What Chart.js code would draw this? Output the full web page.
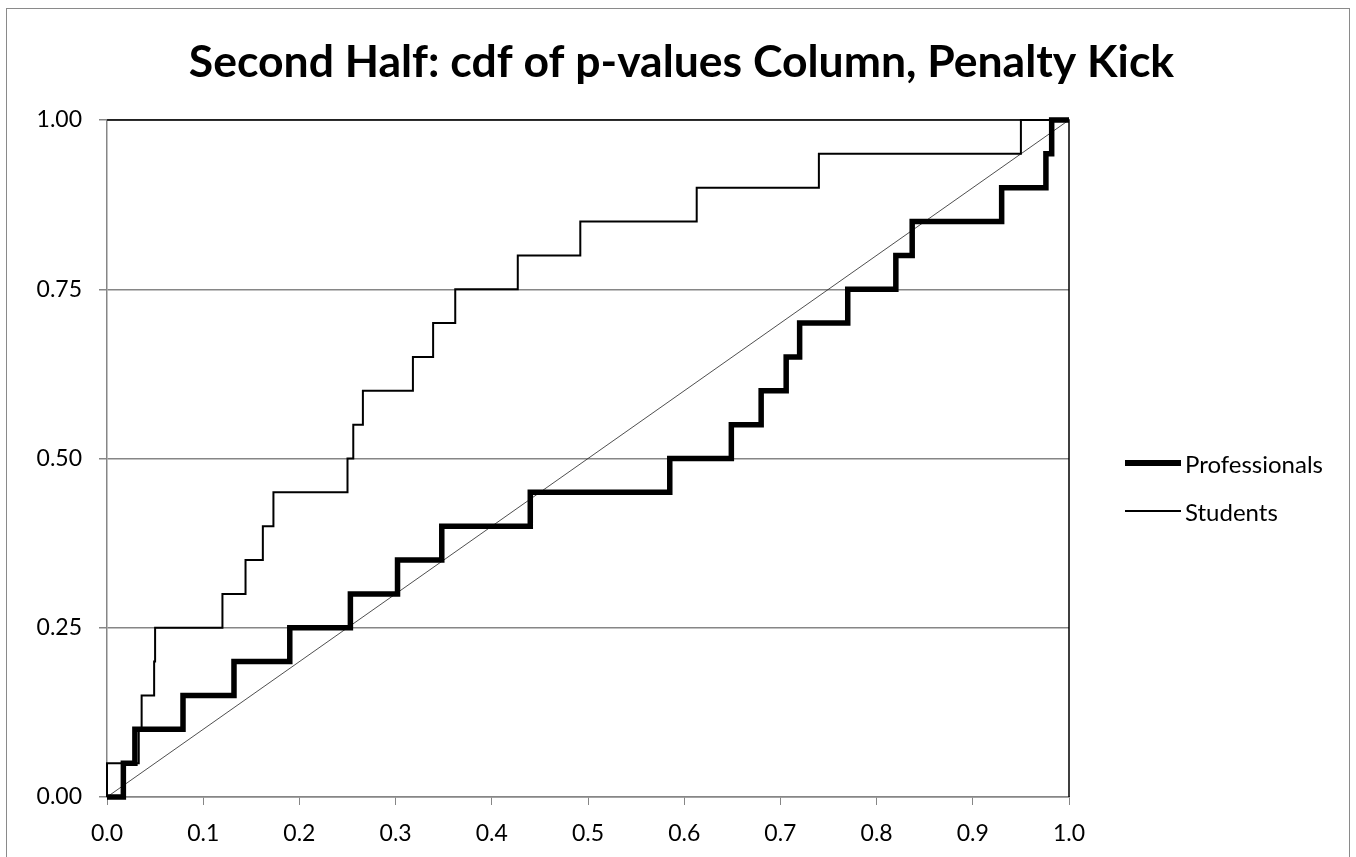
<!DOCTYPE html>
<html>
<head>
<meta charset="utf-8">
<script src="https://cdn.jsdelivr.net/npm/chart.js@4/dist/chart.umd.min.js"></script>
<style>
    body { margin: 0; background: #fff; }
    #wrap { position: relative; width: 1356px; height: 857px; overflow: hidden; }
    #frame { position: absolute; left: 6px; top: 8px; width: 1344px; height: 900px; border: 1.5px solid #8a8a8a; box-sizing: border-box; }
    #chart { position: absolute; left: 0; top: 0; }
    #legend { position: absolute; left: 1125px; top: 448px; font-family: Lato, sans-serif; font-size: 24px; color: #000; }
    .legend-item { display: flex; align-items: center; height: 30px; margin-bottom: 18px; }
    .legend-line { width: 56px; margin-right: 4px; background: #000; }
</style>
</head>
<body>
<div id="wrap">
    <div id="frame"></div>
    <canvas id="chart" width="1356" height="857"></canvas>
    <div id="legend"></div>
</div>
<script>
// p-values (sorted)
const professionalsP = [0.017, 0.029, 0.079, 0.132, 0.190, 0.253, 0.302, 0.348, 0.440, 0.585,
                        0.649, 0.680, 0.706, 0.720, 0.770, 0.820, 0.837, 0.930, 0.976, 0.982];
const studentsP = [0.000, 0.033, 0.036, 0.049, 0.050, 0.120, 0.144, 0.162, 0.173, 0.250,
                   0.256, 0.266, 0.318, 0.339, 0.362, 0.427, 0.492, 0.613, 0.740, 0.950];
// cdf level reached at each p-value
const cdfLevels = [0.05, 0.10, 0.15, 0.20, 0.25, 0.30, 0.35, 0.40, 0.45, 0.50,
                   0.55, 0.60, 0.65, 0.70, 0.75, 0.80, 0.85, 0.90, 0.95, 1.00];
const diagX = [0, 1];
const diagY = [0, 1];
const xTicks = [0, 0.1, 0.2, 0.3, 0.4, 0.5, 0.6, 0.7, 0.8, 0.9, 1.0];
const yTicks = [0, 0.25, 0.5, 0.75, 1.0];

// Build step points: start at (0,0), end at (1,1)
function cdfPoints(pValues) {
    const pts = [{ x: 0, y: 0 }];
    pValues.forEach((p, i) => pts.push({ x: p, y: cdfLevels[i] }));
    pts.push({ x: 1, y: 1 });
    return pts;
}

const GRID = '#868686';
const FONT = 'Lato, sans-serif';

// Black border on top and right of plot area
const plotBorder = {
    id: 'plotBorder',
    afterDatasetsDraw(chart) {
        const { ctx, chartArea: a } = chart;
        ctx.save();
        ctx.strokeStyle = '#000';
        ctx.lineWidth = 1.5;
        ctx.beginPath();
        ctx.moveTo(a.left, a.top);
        ctx.lineTo(a.right, a.top);
        ctx.lineTo(a.right, a.bottom);
        ctx.stroke();
        ctx.restore();
    }
};

const chart = new Chart(document.getElementById('chart'), {
    type: 'line',
    data: {
        datasets: [
            {
                label: 'Professionals',
                data: cdfPoints(professionalsP),
                borderColor: '#000',
                borderWidth: 5.5,
                stepped: 'before',
                pointRadius: 0,
                clip: false
            },
            {
                label: 'Students',
                data: cdfPoints(studentsP),
                borderColor: '#000',
                borderWidth: 2,
                stepped: 'before',
                pointRadius: 0,
                clip: false
            },
            {
                label: 'diag',
                data: diagX.map((x, i) => ({ x: x, y: diagY[i] })),
                borderColor: '#222',
                borderWidth: 0.8,
                pointRadius: 0,
                clip: false
            }
        ]
    },
    options: {
        responsive: false,
        animation: false,
        events: [],
        layout: { padding: { left: 7, right: 0, top: 0, bottom: 0 } },
        plugins: {
            legend: { display: false },
            tooltip: { enabled: false },
            title: {
                display: true,
                text: 'Second Half: cdf of p-values Column, Penalty Kick',
                color: '#000',
                font: { family: FONT, size: 44.5, weight: 'bold', lineHeight: 1.2 },
                padding: { top: 36, bottom: 30.6 }
            }
        },
        scales: {
            x: {
                type: 'linear',
                min: 0,
                max: 1,
                afterFit: scale => { scale.height = 60; },
                afterBuildTicks: scale => { scale.ticks = xTicks.map(v => ({ value: v })); },
                ticks: {
                    color: '#000',
                    font: { family: FONT, size: 23 },
                    padding: 15,
                    maxRotation: 0,
                    callback: v => Number(v).toFixed(1)
                },
                grid: { drawOnChartArea: false, drawTicks: true, tickLength: 8, color: GRID },
                border: { color: GRID, width: 1.5 }
            },
            y: {
                min: 0,
                max: 1,
                afterFit: scale => { scale.width = 100; },
                afterBuildTicks: scale => { scale.ticks = yTicks.map(v => ({ value: v })); },
                ticks: {
                    color: '#000',
                    font: { family: FONT, size: 23 },
                    padding: 17,
                    callback: v => Number(v).toFixed(2)
                },
                grid: { color: GRID, lineWidth: 1.5, tickLength: 8 },
                border: { color: GRID, width: 1.5 }
            },
            // empty right-hand scale that keeps room for the legend
            legendSpace: {
                type: 'linear',
                position: 'right',
                afterFit: scale => { scale.width = 287; },
                ticks: { display: false },
                grid: { display: false },
                border: { display: false }
            }
        }
    },
    plugins: [plotBorder]
});

// Legend built from the chart's datasets
const legend = document.getElementById('legend');
chart.data.datasets.filter(ds => ds.label !== 'diag').forEach(ds => {
    const item = document.createElement('div');
    item.className = 'legend-item';
    item.innerHTML = `<span class="legend-line" style="height:${ds.borderWidth}px"></span><span>${ds.label}</span>`;
    legend.appendChild(item);
});
</script>
</body>
</html>
